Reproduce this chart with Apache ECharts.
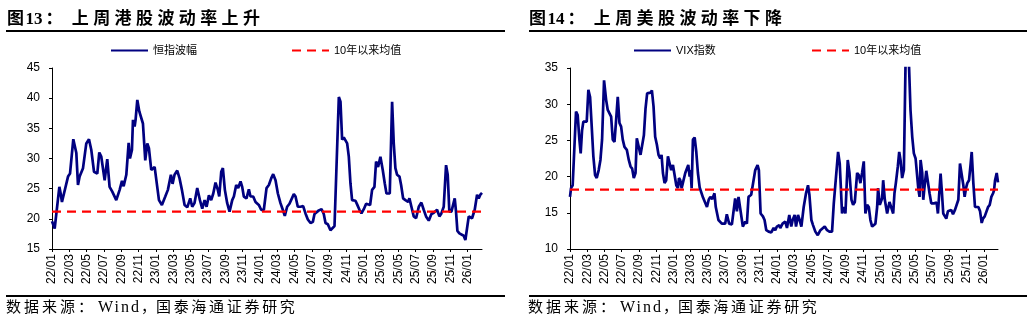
<!DOCTYPE html>
<html><head><meta charset="utf-8">
<script src="https://cdn.jsdelivr.net/npm/echarts@6/dist/echarts.min.js"></script>
<style>
body{margin:0;background:#fff;}
#wrap{position:relative;width:1032px;height:321px;overflow:hidden;background:#fff;}
#chart{position:absolute;left:0;top:0;width:1032px;height:321px;}
.ttl{position:absolute;top:7px;font:bold 17px/20px 'Noto Sans CJK SC';letter-spacing:4.4px;color:#000;white-space:nowrap;}
.ttl .num{font-family:'Liberation Serif';letter-spacing:0;margin-left:-3px;margin-right:3px;}
.ttl .col{margin-right:5px;}
.rule{position:absolute;background:#000;}
.src{position:absolute;top:297px;font:15px/18px 'Noto Sans CJK SC';letter-spacing:3px;white-space:nowrap;color:#000;}
.src .en{font-family:'Liberation Serif';font-size:16px;letter-spacing:2px;margin-left:2px;}
.src .cm{margin-right:-3px;}
.src .rest{letter-spacing:2.7px;}
</style></head>
<body>
<div id="wrap">
<div id="chart"></div>
<div class="ttl" style="left:7px">图<span class="num">13</span><span class="col">：</span>上周港股波动率上升</div>
<div class="ttl" style="left:529px">图<span class="num">14</span><span class="col">：</span>上周美股波动率下降</div>
<div class="rule" style="left:6px;top:30px;width:499px;height:2px"></div>
<div class="rule" style="left:529px;top:30px;width:498px;height:2px"></div>
<div class="rule" style="left:6px;top:295px;width:499px;height:1.5px"></div>
<div class="rule" style="left:529px;top:295px;width:498px;height:1.5px"></div>
<div class="src" style="left:6px">数据来源<span>：</span><span class="en">Wind</span><span class="cm">，</span><span class="rest">国泰海通证券研究</span></div>
<div class="src" style="left:528px">数据来源<span>：</span><span class="en">Wind</span><span class="cm">，</span><span class="rest">国泰海通证券研究</span></div>
</div>
<script>
// x = months since 2022/01
const xTickLabels = ['22/01','22/03','22/05','22/07','22/09','22/11','23/01','23/03','23/05','23/07','23/09','23/11','24/01','24/03','24/05','24/07','24/09','24/11','25/01','25/03','25/05','25/07','25/09','25/11','26/01'];
const xMax = 49.65;

const hsiName = '恒指波幅';
const vixName = 'VIX指数';
const meanName = '10年以来均值';
const hsiMean = 21.2;
const vixMean = 18.2;

const hsiPoints = [[0,19.6],[0.31,18.4],[0.54,18.4],[0.85,25.3],[1.0,24.2],[1.15,22.8],[1.38,23.1],[1.85,27.0],[2.08,27.5],[2.46,33.2],[2.62,33.1],[2.81,30.9],[3.0,25.6],[3.19,27.0],[3.58,28.4],[3.96,32.5],[4.27,33.2],[4.54,31.4],[4.85,27.8],[5.23,27.5],[5.46,31.0],[5.69,30.3],[5.88,30.6],[6.08,26.4],[6.38,29.9],[6.65,25.3],[6.96,24.5],[7.42,23.1],[7.81,24.8],[8.08,26.3],[8.27,25.4],[8.58,27.3],[8.85,32.6],[9.0,30.0],[9.23,31.4],[9.35,36.4],[9.54,35.3],[9.65,36.4],[9.85,39.7],[10.08,37.8],[10.31,37.5],[10.5,35.8],[10.77,29.7],[11.0,32.5],[11.19,31.7],[11.46,28.1],[11.85,28.6],[12.08,28.4],[12.35,23.1],[12.69,22.3],[13.08,23.7],[13.38,24.8],[13.58,24.5],[13.73,27.3],[13.92,25.8],[14.15,27.3],[14.46,28.0],[14.73,26.7],[15.0,24.8],[15.31,22.3],[15.62,21.9],[15.96,23.4],[16.19,22.0],[16.45,22.6],[16.77,25.1],[17.08,23.1],[17.35,21.7],[17.62,23.1],[17.85,22.0],[18.12,23.9],[18.38,23.1],[18.62,24.2],[18.88,26.0],[19.15,24.8],[19.31,23.7],[19.54,27.8],[19.73,28.4],[19.96,24.8],[20.23,22.6],[20.5,21.2],[20.81,23.1],[21.0,23.7],[21.27,25.6],[21.5,25.1],[21.77,26.2],[21.96,25.3],[22.15,23.7],[22.46,23.4],[22.73,24.9],[22.92,23.7],[23.23,23.7],[23.5,22.8],[23.69,23.1],[23.88,22.3],[24.15,21.5],[24.46,21.5],[24.77,25.1],[25.04,25.6],[25.31,26.7],[25.54,27.4],[25.81,26.4],[26.08,24.2],[26.38,22.6],[26.65,21.5],[26.88,20.5],[27.15,22.0],[27.42,22.5],[27.65,22.6],[27.92,24.1],[28.12,23.7],[28.38,22.0],[28.69,22.0],[29.0,22.1],[29.27,20.9],[29.54,19.9],[29.85,19.3],[30.12,19.5],[30.31,20.8],[30.54,20.8],[30.81,21.4],[31.12,21.6],[31.38,20.8],[31.58,19.3],[31.85,19.1],[32.15,18.1],[32.35,18.4],[32.62,18.8],[33.12,40.2],[33.31,39.4],[33.5,33.1],[33.69,33.5],[33.88,33.3],[34.08,32.5],[34.27,30.3],[34.46,25.9],[34.65,23.1],[34.85,22.8],[35.04,23.0],[35.23,22.4],[35.5,21.5],[35.73,20.9],[36.0,21.6],[36.27,22.5],[36.5,22.7],[36.73,22.3],[36.96,24.8],[37.23,25.3],[37.42,29.5],[37.65,28.6],[37.92,30.3],[38.19,28.1],[38.42,25.9],[38.62,24.2],[38.81,23.9],[39.0,24.2],[39.27,39.4],[39.46,32.5],[39.65,28.4],[39.85,27.3],[40.12,27.0],[40.31,25.6],[40.54,23.4],[40.81,23.1],[41.12,22.8],[41.27,23.4],[41.5,22.0],[41.77,20.4],[42.04,20.1],[42.35,22.0],[42.65,22.7],[42.92,21.5],[43.19,20.4],[43.5,19.7],[43.81,20.8],[44.08,21.0],[44.27,20.8],[44.46,21.5],[44.73,20.4],[44.96,20.9],[45.23,22.0],[45.5,28.9],[45.69,27.3],[45.88,21.2],[46.12,21.2],[46.27,21.2],[46.5,23.4],[46.65,21.2],[46.81,18.0],[47.04,17.6],[47.27,17.5],[47.54,17.2],[47.73,16.5],[47.92,18.4],[48.12,20.4],[48.31,20.6],[48.5,20.1],[48.81,21.5],[49.08,24.0],[49.27,23.4],[49.46,24.0],[49.65,24.3]];

const vixPoints = [[0,17.2],[0.12,18.4],[0.31,18.8],[0.5,19.0],[0.7,29.0],[0.89,28.5],[1.09,25.1],[1.24,23.2],[1.4,26.4],[1.55,27.6],[1.78,27.7],[1.94,27.6],[2.13,32.0],[2.33,31.0],[2.52,26.9],[2.71,22.8],[2.91,20.2],[3.1,19.8],[3.33,20.9],[3.53,22.3],[3.72,25.1],[3.95,33.3],[4.19,30.6],[4.38,29.2],[4.57,29.4],[4.77,28.3],[4.96,25.1],[5.16,24.8],[5.35,27.8],[5.54,31.0],[5.74,27.4],[5.93,26.9],[6.12,25.1],[6.32,24.1],[6.59,23.7],[6.82,22.3],[7.02,21.4],[7.21,21.1],[7.4,19.8],[7.6,20.5],[7.75,25.3],[7.95,25.4],[8.18,23.0],[8.37,23.0],[8.57,25.7],[8.76,29.4],[8.95,31.5],[9.15,31.5],[9.34,31.6],[9.5,31.9],[9.69,29.7],[9.88,25.5],[10.08,24.4],[10.27,23.0],[10.47,22.5],[10.62,23.0],[10.78,20.5],[10.97,19.1],[11.16,19.5],[11.36,22.8],[11.55,22.8],[11.74,20.9],[11.94,21.6],[12.13,21.4],[12.33,18.8],[12.52,18.4],[12.64,19.8],[12.79,19.5],[12.95,18.4],[13.18,18.2],[13.37,20.5],[13.57,20.5],[13.72,21.6],[13.88,20.0],[13.99,20.9],[14.11,18.4],[14.26,25.1],[14.46,25.4],[14.65,23.4],[14.84,20.5],[15.04,18.5],[15.23,18.4],[15.43,17.1],[15.62,17.0],[15.89,15.8],[16.09,16.8],[16.28,17.2],[16.51,16.9],[16.76,17.7],[16.91,15.8],[17.22,14.0],[17.61,13.5],[18.0,13.5],[18.19,14.8],[18.46,13.5],[18.78,13.4],[18.97,13.3],[19.16,17.0],[19.36,15.2],[19.55,17.2],[19.74,17.0],[20.05,13.1],[20.33,13.8],[20.52,13.5],[20.71,17.2],[21.02,17.5],[21.25,17.7],[21.49,20.9],[21.76,21.6],[21.91,20.9],[22.11,14.9],[22.38,14.5],[22.57,14.0],[22.77,12.6],[23.04,12.4],[23.35,12.3],[23.62,12.9],[23.81,12.6],[24.0,13.1],[24.28,13.3],[24.39,12.9],[24.66,13.5],[24.97,13.8],[25.17,12.9],[25.44,14.7],[25.67,13.1],[25.83,14.0],[26.06,14.7],[26.22,13.1],[26.45,14.7],[26.64,14.0],[26.84,13.1],[27.11,15.8],[27.38,17.7],[27.61,18.8],[27.77,17.5],[28.0,14.0],[28.19,13.3],[28.46,12.4],[28.74,11.9],[29.05,12.6],[29.24,12.4],[29.55,13.1],[29.82,12.6],[30.09,12.4],[30.4,12.4],[30.6,16.3],[30.79,16.5],[31.1,23.4],[31.29,21.8],[31.56,14.9],[31.76,15.8],[31.95,14.9],[32.22,22.3],[32.42,20.5],[32.65,16.8],[32.84,16.1],[33.04,16.5],[33.31,20.5],[33.5,20.2],[33.69,19.1],[33.88,20.5],[34.08,22.1],[34.27,14.9],[34.47,16.1],[34.66,15.8],[34.85,14.0],[35.05,13.1],[35.24,12.9],[35.43,13.5],[35.63,15.8],[35.74,18.4],[35.94,16.1],[36.21,17.0],[36.33,19.5],[36.52,16.8],[36.79,14.9],[37.06,16.5],[37.29,16.3],[37.49,14.9],[37.64,17.7],[37.8,19.1],[38.03,21.4],[38.19,23.4],[38.34,22.3],[38.53,19.8],[38.73,20.9],[39.05,45.3],[39.28,37.0],[39.5,29.2],[39.7,25.5],[39.89,23.2],[40.09,22.5],[40.28,22.3],[40.4,18.4],[40.55,17.2],[40.67,22.3],[40.86,20.5],[40.98,16.8],[41.13,18.6],[41.33,20.8],[41.52,20.7],[41.71,17.7],[41.91,16.3],[42.22,16.3],[42.53,16.4],[42.68,14.9],[42.84,14.9],[42.99,20.4],[43.15,17.7],[43.3,14.9],[43.46,14.7],[43.65,14.2],[43.84,15.2],[44.04,15.0],[44.23,15.4],[44.43,14.8],[44.66,15.4],[44.85,15.6],[45.05,16.8],[45.24,21.8],[45.43,21.6],[45.63,18.8],[45.78,17.2],[45.94,18.4],[46.09,19.1],[46.29,19.5],[46.48,21.8],[46.6,23.4],[46.79,19.1],[46.98,15.8],[47.18,15.7],[47.37,15.8],[47.57,15.2],[47.76,13.6],[47.91,14.2],[48.11,14.5],[48.3,14.7],[48.5,15.8],[48.69,16.1],[48.88,17.2],[49.08,17.7],[49.19,18.1],[49.31,19.5],[49.5,20.5],[49.65,19.2]];

const tickValues = xTickLabels.map((_, i) => i * 2);
const BLUE = '#000080', RED = '#ff0000';
const FONT = "'Liberation Sans', 'Noto Sans CJK SC', sans-serif";

function xAxisCfg(gi) {
  return {
    type: 'value', gridIndex: gi, min: 0, max: xMax,
    axisLine: { show: true, lineStyle: { color: '#000', width: 1 } },
    axisTick: { show: true, length: 3, lineStyle: { color: '#000' }, customValues: tickValues },
    axisLabel: {
      rotate: 90, margin: 5, color: '#000', fontSize: 12, fontFamily: FONT,
      customValues: tickValues,
      formatter: v => xTickLabels[Math.round(v / 2)] || ''
    },
    splitLine: { show: false }
  };
}
function yAxisCfg(gi, mn, mx) {
  return {
    type: 'value', gridIndex: gi, min: mn, max: mx, interval: 5,
    axisLine: { show: true, lineStyle: { color: '#000', width: 1 } },
    axisTick: { show: true, length: 3, lineStyle: { color: '#000' } },
    axisLabel: { margin: 12, color: '#000', fontSize: 12, fontFamily: FONT },
    splitLine: { show: false }
  };
}
function meanLine(points, m) {
  return [[points[0][0], m], [points[points.length - 1][0], m]];
}
function legendCfg(name, left) {
  return {
    data: [name], left: left, top: 45, itemWidth: 37, itemHeight: 10, padding: 0,
    itemStyle: { opacity: 0, borderWidth: 0 },
    textStyle: { fontSize: 11, color: '#000', fontFamily: FONT }, selectedMode: false
  };
}

const chart = echarts.init(document.getElementById('chart'), null, { renderer: 'canvas' });
chart.setOption({
  animation: false,
  backgroundColor: 'transparent',
  grid: [
    { left: 52, top: 68, width: 430, height: 181, containLabel: false, outerBoundsMode: 'none' },
    { left: 570, top: 68, width: 428, height: 181, containLabel: false, outerBoundsMode: 'none' }
  ],
  legend: [
    legendCfg(hsiName, 110), legendCfg(meanName, 291),
    legendCfg(vixName, 633), legendCfg(meanName, 811)
  ],
  xAxis: [xAxisCfg(0), xAxisCfg(1)],
  yAxis: [yAxisCfg(0, 15, 45), yAxisCfg(1, 10, 35)],
  series: [
    { name: hsiName, type: 'line', xAxisIndex: 0, yAxisIndex: 0, data: hsiPoints, symbol: 'none',
      lineStyle: { color: BLUE, width: 2.7 }, itemStyle: { color: BLUE }, z: 3 },
    { name: meanName, type: 'line', xAxisIndex: 0, yAxisIndex: 0, data: meanLine(hsiPoints, hsiMean), symbol: 'none',
      lineStyle: { color: RED, width: 2.2, type: [9, 6] }, itemStyle: { color: RED }, z: 4 },
    { name: vixName, type: 'line', xAxisIndex: 1, yAxisIndex: 1, data: vixPoints, symbol: 'none',
      lineStyle: { color: BLUE, width: 2.7 }, itemStyle: { color: BLUE }, z: 3 },
    { name: meanName, type: 'line', xAxisIndex: 1, yAxisIndex: 1, data: meanLine(vixPoints, vixMean), symbol: 'none',
      lineStyle: { color: RED, width: 2.2, type: [9, 6] }, itemStyle: { color: RED }, z: 4 }
  ]
});
</script>
</body></html>
